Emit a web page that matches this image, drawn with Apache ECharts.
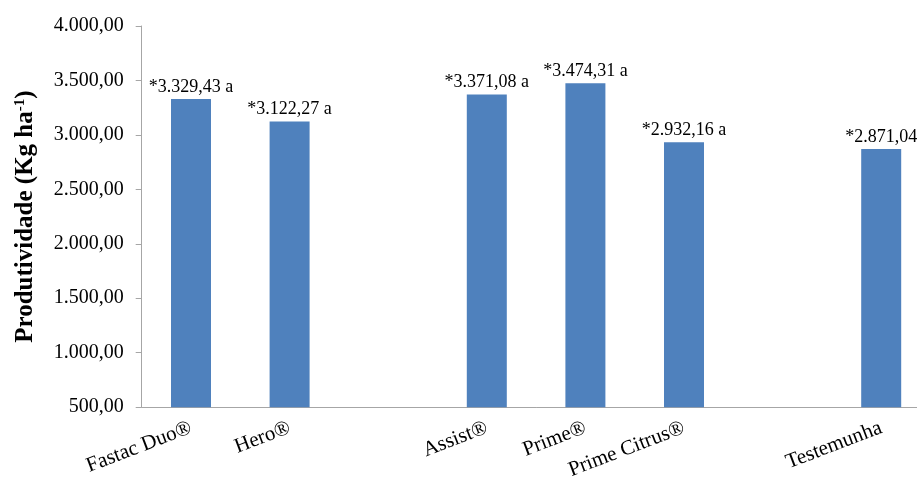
<!DOCTYPE html>
<html>
<head>
<meta charset="utf-8">
<script src="https://cdn.jsdelivr.net/npm/echarts@6/dist/echarts.min.js"></script>
<style>
html,body{margin:0;padding:0;background:#fff;overflow:hidden;width:917px;height:482px;}
#chart{width:931px;height:482px;}
</style>
</head>
<body>
<div id="chart"></div>
<script>
var categories = ['Fastac Duo®', 'Hero®', '', 'Assist®', 'Prime®', 'Prime Citrus®', '', 'Testemunha'];
var values = [3329.43, 3122.27, null, 3371.08, 3474.31, 2932.16, null, 2871.04];
var barLabels = ['*3.329,43 a', '*3.122,27 a', '', '*3.371,08 a', '*3.474,31 a', '*2.932,16 a', '', '*2.871,04'];
var yMin = 500, yMax = 4000, yStep = 500;

function fmt(v) {
  var s = Math.round(v).toString();
  var out = '';
  while (s.length > 3) { out = '.' + s.slice(-3) + out; s = s.slice(0, -3); }
  return s + out + ',00';
}

var font = 'Liberation Serif';
var chart = echarts.init(document.getElementById('chart'));
chart.setOption({
  animation: false,
  backgroundColor: '#ffffff',
  grid: { left: 141.7, right: 0.5, top: 26, bottom: 73, containLabel: false },
  xAxis: {
    type: 'category',
    data: categories,
    axisLine: { lineStyle: { color: '#A6A6A6', width: 1 } },
    axisTick: { show: false },
    axisLabel: { interval: 0, rotate: 21, margin: 20, fontFamily: font, fontSize: 21, color: '#000' }
  },
  yAxis: {
    type: 'value',
    min: yMin, max: yMax, interval: yStep,
    name: '{b|Produtividade (Kg ha}{s|-1}{b|)}',
    nameLocation: 'middle',
    nameGap: 104,
    nameTextStyle: {
      rich: {
        b: { fontFamily: font, fontWeight: 'bold', fontSize: 25, color: '#000' },
        s: { fontFamily: font, fontWeight: 'bold', fontSize: 15, color: '#000', verticalAlign: 'top', padding: [0, 0, 6, 0] }
      }
    },
    splitLine: { show: false },
    axisLine: { show: true, lineStyle: { color: '#A6A6A6', width: 1 } },
    axisTick: { show: true, length: 6, lineStyle: { color: '#A6A6A6' } },
    axisLabel: { margin: 18, fontFamily: font, fontSize: 20, color: '#000', formatter: fmt }
  },
  series: [{
    type: 'bar',
    data: values,
    barWidth: 40,
    itemStyle: { color: '#4F81BD' },
    label: {
      show: true, position: 'top', distance: 3,
      fontFamily: font, fontSize: 18, color: '#000',
      formatter: function (p) { return barLabels[p.dataIndex]; }
    }
  }]
});
</script>
</body>
</html>
